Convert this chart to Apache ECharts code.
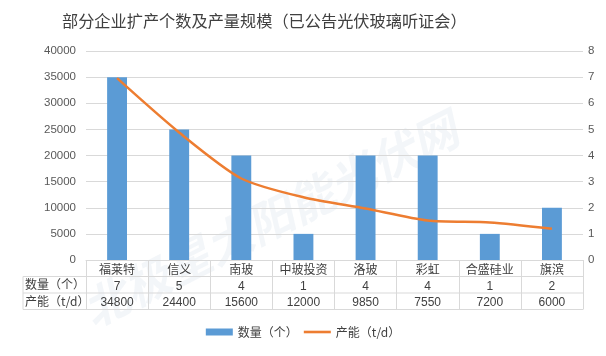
<!DOCTYPE html>
<html><head><meta charset="utf-8">
<script src="https://cdn.jsdelivr.net/npm/echarts@6/dist/echarts.min.js"></script>
<style>html,body{margin:0;padding:0;background:#fff}#c{width:606px;height:356px}</style>
</head><body><div id="c"></div>
<script>
const categories = ['福莱特','信义','南玻','中玻投资','洛玻','彩虹','合盛硅业','旗滨'];
const counts = [7,5,4,1,4,4,1,2];
const capacity = [34800,24400,15600,12000,9850,7550,7200,6000];
const leftTicks = {min:0,max:40000,interval:5000};
const rightTicks = {min:0,max:8,interval:1};

const font = '"Microsoft YaHei","Noto Sans CJK SC",sans-serif';
const numFont = 'Arial,"Liberation Sans",sans-serif';
const gl = 86, gr = 23, gt = 51, gb = 96;
const W = 606, H = 356;
const x0 = 23, plotBottom = H - gb, row = 16.5;
const lineC = '#d9d9d9';

const chart = echarts.init(document.getElementById('c'));
chart.setOption({
  animation:false,
  title:{text:'部分企业扩产个数及产量规模（已公告光伏玻璃听证会）',left:57,top:8,
    textStyle:{fontSize:16.2,fontWeight:'normal',color:'#404040',fontFamily:font}},
  legend:{bottom:13,left:'center',itemWidth:27,itemHeight:7,itemGap:6,
    textStyle:{fontSize:12,color:'#404040',fontFamily:font},
    data:[{name:'数量（个）',icon:'rect'},{name:'产能（t/d）',icon:'path://M0,0H27V2.6H0Z',itemStyle:{color:'#ED7D31'}}]},
  grid:{left:gl,right:gr,top:gt,bottom:gb},
  xAxis:[
    {type:'category',data:categories,position:'bottom',
     axisLine:{show:true,lineStyle:{color:lineC}},
     axisTick:{show:true,interval:0,length:row*3,lineStyle:{color:lineC}},
     axisLabel:{interval:0,margin:3,fontSize:12,color:'#404040',fontFamily:font,verticalAlign:'top'}},
    {type:'category',data:counts.map(String),position:'bottom',offset:row,
     axisLine:{show:false},axisTick:{show:false},
     axisLabel:{interval:0,margin:4,fontSize:12,color:'#404040',fontFamily:numFont,verticalAlign:'top'}},
    {type:'category',data:capacity.map(String),position:'bottom',offset:row*2,
     axisLine:{show:false},axisTick:{show:false},
     axisLabel:{interval:0,margin:4,fontSize:12,color:'#404040',fontFamily:numFont,verticalAlign:'top'}}
  ],
  yAxis:[
    {type:'value',min:leftTicks.min,max:leftTicks.max,interval:leftTicks.interval,
     axisLine:{show:false},axisTick:{show:false},
     splitLine:{lineStyle:{color:lineC}},
     axisLabel:{fontSize:11.5,color:'#595959',margin:10,fontFamily:numFont,formatter:v=>String(v)}},
    {type:'value',min:rightTicks.min,max:rightTicks.max,interval:rightTicks.interval,
     axisLine:{show:false},axisTick:{show:false},splitLine:{show:false},
     axisLabel:{fontSize:11.5,color:'#595959',margin:5,fontFamily:numFont}}
  ],
  series:[
    {name:'数量（个）',type:'bar',yAxisIndex:1,xAxisIndex:0,data:counts,barWidth:'32%',
     itemStyle:{color:'#5B9BD5'}},
    {name:'产能（t/d）',type:'line',yAxisIndex:0,xAxisIndex:0,data:capacity,smooth:0.25,
     showSymbol:false,symbol:'none',lineStyle:{color:'#ED7D31',width:2.5},itemStyle:{color:'#ED7D31'}}
  ],
  graphic:[
    {type:'text',rotation:0.47,left:75,top:105,z:-1,
     style:{text:'北极星太阳能光伏网',fontSize:46,fontWeight:'bold',fontStyle:'italic',fill:'rgba(200,212,228,0.22)',fontFamily:font}},
    {type:'line',shape:{x1:x0,y1:plotBottom+row,x2:W-gr,y2:plotBottom+row},style:{stroke:lineC,lineWidth:1}},
    {type:'line',shape:{x1:x0,y1:plotBottom+row*2,x2:W-gr,y2:plotBottom+row*2},style:{stroke:lineC,lineWidth:1}},
    {type:'line',shape:{x1:x0,y1:plotBottom+row*3,x2:W-gr,y2:plotBottom+row*3},style:{stroke:lineC,lineWidth:1}},
    {type:'line',shape:{x1:x0,y1:plotBottom+row,x2:x0,y2:plotBottom+row*3},style:{stroke:lineC,lineWidth:1}},
    {type:'text',left:x0+2,top:plotBottom+row+2,style:{text:'数量（个）',fontSize:12,fill:'#404040',fontFamily:font}},
    {type:'text',left:x0+2,top:plotBottom+row*2+2,style:{text:'产能（t/d）',fontSize:12,fill:'#404040',fontFamily:font}}
  ]
});
</script></body></html>
